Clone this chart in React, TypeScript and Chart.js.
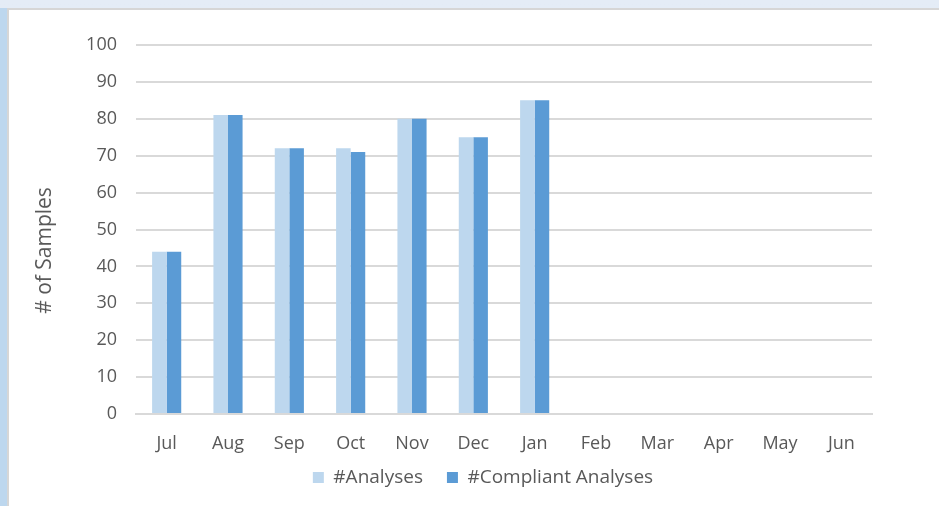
import React, { useEffect, useRef } from "react";
import { Chart, registerables } from "chart.js";

Chart.register(...registerables);

const months = ["Jul", "Aug", "Sep", "Oct", "Nov", "Dec", "Jan", "Feb", "Mar", "Apr", "May", "Jun"];
const analyses = [44, 81, 72, 72, 80, 75, 85, null, null, null, null, null];
const compliant = [44, 81, 72, 71, 80, 75, 85, null, null, null, null, null];
const seriesNames = ["#Analyses", "#Compliant Analyses"];
const yTitle = "# of Samples";

const FONT = "'Open Sans', 'Noto Sans', sans-serif";
const TEXT = "#595959";

const yTitlePlugin = {
  id: "yTitleOffset",
  afterDraw(chart: any) {
    const { ctx, chartArea } = chart;
    ctx.save();
    ctx.translate(36, (chartArea.top + chartArea.bottom) / 2 + 21);
    ctx.rotate(-Math.PI / 2);
    ctx.font = `21px ${FONT}`;
    ctx.fillStyle = TEXT;
    ctx.textAlign = "center";
    ctx.textBaseline = "middle";
    ctx.fillText(yTitle, 0, 0);
    ctx.restore();
  },
};

export default function App() {
  const ref = useRef<HTMLCanvasElement | null>(null);
  useEffect(() => {
    document.body.style.margin = "0";
    const chart = new Chart(ref.current!, {
      type: "bar",
      data: {
        labels: months,
        datasets: [
          { label: seriesNames[0], data: analyses, backgroundColor: "#BDD7EE", categoryPercentage: 0.475, barPercentage: 1 },
          { label: seriesNames[1], data: compliant, backgroundColor: "#5B9BD5", categoryPercentage: 0.475, barPercentage: 1 },
        ],
      },
      plugins: [yTitlePlugin],
      options: {
        animation: false,
        responsive: true,
        maintainAspectRatio: false,
        layout: { padding: { left: 18, right: 0, top: 35, bottom: 9 } },
        plugins: {
          tooltip: { enabled: false },
          legend: {
            position: "bottom",
            title: { display: true, text: "", font: { size: 10 }, padding: { top: -23, bottom: 0 } },
            labels: { boxWidth: 11, boxHeight: 11, color: TEXT, font: { family: FONT, size: 19 }, padding: 24 },
          },
        },
        scales: {
          x: {
            grid: { display: false, drawTicks: false },
            border: { color: "#D9D9D9", width: 2 },
            ticks: { color: TEXT, font: { family: FONT, size: 18 }, padding: 19 },
            afterFit(scale: any) { scale.height = 41; scale.paddingRight = 67; },
          },
          y: {
            min: 0,
            max: 100,
            ticks: { stepSize: 10, color: TEXT, font: { family: FONT, size: 18 }, padding: 19 },
            grid: { color: "#D9D9D9", lineWidth: 2, drawTicks: false },
            border: { display: false },
            afterFit(scale: any) { scale.width = 109; },
          },
        },
      },
    });
    return () => chart.destroy();
  }, []);
  return (
    <div style={{ position: "fixed", left: 0, top: 0, width: 939, height: 506, background: "linear-gradient(180deg, #E4ECF6 0%, #DDE7F3 100%)", overflow: "hidden" }}>
      <div style={{ position: "absolute", left: 0, top: 8, width: 7, height: 498, background: "#BDD7EE" }} />
      <div style={{ position: "absolute", left: 7, top: 8, right: 0, bottom: 0, borderTop: "2px solid #D6D6D6", borderLeft: "2px solid #D6D6D6", background: "#FFFFFF" }}>
        <div style={{ position: "absolute", left: 0, top: 0, width: 930, height: 496 }}>
          <canvas ref={ref} />
        </div>
      </div>
    </div>
  );
}
